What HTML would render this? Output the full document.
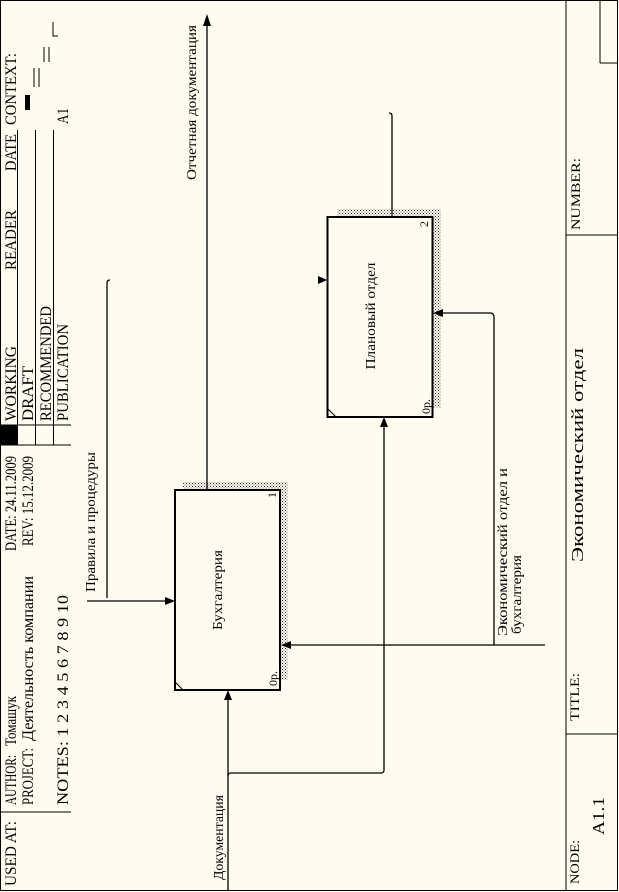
<!DOCTYPE html>
<html><head><meta charset="utf-8"><style>
html,body{margin:0;padding:0;background:#fffbf0;}
svg{display:block;}
text{font-family:"Liberation Serif","Noto Serif CJK SC",serif;fill:#000;}
</style></head><body>
<svg width="619" height="892" viewBox="0 0 619 892" xmlns="http://www.w3.org/2000/svg">
<defs>
<pattern id="hat" width="3" height="3" patternUnits="userSpaceOnUse">
<rect width="3" height="3" fill="#fffbf0"/><rect width="1" height="1" fill="#333"/><rect x="1.5" y="1.5" width="1" height="1" fill="#555"/>
</pattern>
</defs>
<rect x="0" y="0" width="619" height="892" fill="#fffbf0"/>
<rect x="0.5" y="0.5" width="617" height="890" fill="none" stroke="#000" stroke-width="1"/>
<line x1="566" y1="0" x2="566" y2="891" stroke="#000"/>
<line x1="566" y1="235" x2="618" y2="235" stroke="#000"/>
<line x1="566" y1="734" x2="618" y2="734" stroke="#000"/>
<line x1="600" y1="0" x2="600" y2="63" stroke="#000"/>
<line x1="600" y1="63" x2="618" y2="63" stroke="#000"/>
<line x1="0" y1="425" x2="71" y2="425" stroke="#000"/>
<line x1="0" y1="445" x2="71" y2="445" stroke="#000"/>
<line x1="0" y1="812" x2="71" y2="812" stroke="#000"/>
<rect x="0" y="425" width="17" height="20" fill="#000"/>
<line x1="17.5" y1="130" x2="17.5" y2="445" stroke="#000"/>
<line x1="35.5" y1="130" x2="35.5" y2="445" stroke="#000"/>
<line x1="53.5" y1="130" x2="53.5" y2="445" stroke="#000"/>
<rect x="25" y="95" width="5" height="15" fill="#000"/>
<line x1="34" y1="68" x2="34" y2="87" stroke="#000"/><line x1="39" y1="68" x2="39" y2="87" stroke="#000"/>
<line x1="44" y1="47" x2="44" y2="62" stroke="#000"/><line x1="49" y1="47" x2="49" y2="62" stroke="#000"/>
<polyline points="53,22 53,36 58,36" fill="none" stroke="#000"/>

<g font-size="16">
<text transform="translate(16,886) rotate(-90)" textLength="65" lengthAdjust="spacingAndGlyphs">USED AT:</text>
<text transform="translate(16,805) rotate(-90)" textLength="50" lengthAdjust="spacingAndGlyphs">AUTHOR:</text>
<text transform="translate(16,746) rotate(-90)" textLength="50" lengthAdjust="spacingAndGlyphs">Томашук</text>
<text transform="translate(16,551) rotate(-90)" textLength="95" lengthAdjust="spacingAndGlyphs">DATE: 24.11.2009</text>
<text transform="translate(16,421) rotate(-90)" textLength="75" lengthAdjust="spacingAndGlyphs">WORKING</text>
<text transform="translate(16,270) rotate(-90)" textLength="60" lengthAdjust="spacingAndGlyphs">READER</text>
<text transform="translate(16,171) rotate(-90)" textLength="37" lengthAdjust="spacingAndGlyphs">DATE</text>
<text transform="translate(16,125) rotate(-90)" textLength="72" lengthAdjust="spacingAndGlyphs">CONTEXT:</text>
<text transform="translate(33,805) rotate(-90)" textLength="57" lengthAdjust="spacingAndGlyphs">PROJECT:</text>
<text transform="translate(33,741) rotate(-90)" textLength="165" lengthAdjust="spacingAndGlyphs">Деятельность компании</text>
<text transform="translate(33,546) rotate(-90)" textLength="90" lengthAdjust="spacingAndGlyphs">REV:  15.12.2009</text>
<text transform="translate(33,421) rotate(-90)" textLength="55" lengthAdjust="spacingAndGlyphs">DRAFT</text>
<text transform="translate(51,421) rotate(-90)" textLength="115" lengthAdjust="spacingAndGlyphs">RECOMMENDED</text>
<text transform="translate(68,421) rotate(-90)" textLength="97" lengthAdjust="spacingAndGlyphs">PUBLICATION</text>
<text transform="translate(68,124) rotate(-90)" textLength="16" lengthAdjust="spacingAndGlyphs">A1</text>
<text transform="translate(68,805) rotate(-90)" textLength="210" lengthAdjust="spacingAndGlyphs">NOTES:  1  2  3  4  5  6  7  8  9  10</text>
</g>
<g font-size="13">
<text transform="translate(579,884) rotate(-90)" textLength="44" lengthAdjust="spacingAndGlyphs">NODE:</text>
<text transform="translate(579,721) rotate(-90)" textLength="48" lengthAdjust="spacingAndGlyphs">TITLE:</text>
<text transform="translate(580,230) rotate(-90)" textLength="72" lengthAdjust="spacingAndGlyphs">NUMBER:</text>
</g>
<text font-size="17" transform="translate(604,835) rotate(-90)" textLength="38" lengthAdjust="spacingAndGlyphs">A1.1</text>
<text font-size="17" transform="translate(583,562) rotate(-90)" textLength="214" lengthAdjust="spacingAndGlyphs">Экономический  отдел</text>

<rect x="183" y="482" width="105" height="8" fill="url(#hat)"/>
<rect x="280" y="482" width="8" height="198" fill="url(#hat)"/>
<rect x="175" y="490" width="105" height="200" fill="#fffbf0" stroke="#000" stroke-width="2"/>
<line x1="175" y1="682" x2="183" y2="690" stroke="#000"/>
<text font-size="14" transform="translate(222,590) rotate(-90)" text-anchor="middle" textLength="80" lengthAdjust="spacingAndGlyphs">Бухгалтерия</text>
<text font-size="12" transform="translate(276,498) rotate(-90)">1</text>
<text font-size="12" transform="translate(277,686) rotate(-90)">0р.</text>

<rect x="337" y="209" width="104" height="8" fill="url(#hat)"/>
<rect x="432" y="209" width="9" height="199" fill="url(#hat)"/>
<rect x="327.5" y="217" width="105" height="200" fill="#fffbf0" stroke="#000" stroke-width="2"/>
<line x1="328" y1="409" x2="336" y2="417" stroke="#000"/>
<text font-size="14" transform="translate(375,316) rotate(-90)" text-anchor="middle" textLength="107" lengthAdjust="spacingAndGlyphs">Плановый отдел</text>
<text font-size="12" transform="translate(428,227) rotate(-90)">2</text>
<text font-size="12" transform="translate(430,414) rotate(-90)">0р.</text>

<g stroke="#000" stroke-width="1.3" fill="none">
<line x1="207" y1="490" x2="207" y2="22"/>
<line x1="87" y1="601" x2="170" y2="601"/>
<path d="M107,598 L107,283 Q107,280 110,280"/>
<path d="M392,217 L392,116 Q392,113 389,113"/>
<line x1="228" y1="891" x2="228" y2="696"/>
<path d="M228,776 Q228,773 231,773 L381,773 Q384,773 384,770 L384,423"/>
<line x1="545" y1="645" x2="288" y2="645"/>
<path d="M494,645 L494,317 Q494,313 490,313 L440,313"/>
</g>
<g fill="#000">
<polygon points="207,14 203,26 211,26"/>
<polygon points="175,601 165,597 165,605"/>
<polygon points="228,690 224,700 232,700"/>
<polygon points="384,417 380,427 388,427"/>
<polygon points="281,645 291,641 291,649"/>
<polygon points="433,313 443,309 443,317"/>
<polygon points="327,280 318,276 318,284"/>
</g>

<g font-size="14">
<text transform="translate(196,180) rotate(-90)" textLength="155" lengthAdjust="spacingAndGlyphs">Отчетная документация</text>
<text transform="translate(95,592) rotate(-90)" textLength="140" lengthAdjust="spacingAndGlyphs">Правила и процедуры</text>
<text transform="translate(223,880) rotate(-90)" textLength="85" lengthAdjust="spacingAndGlyphs">Документация</text>
<text transform="translate(507,636) rotate(-90)" textLength="168" lengthAdjust="spacingAndGlyphs">Экономический отдел и</text>
<text transform="translate(521,634) rotate(-90)" textLength="79" lengthAdjust="spacingAndGlyphs">бухгалтерия</text>
</g>
</svg>
</body></html>
